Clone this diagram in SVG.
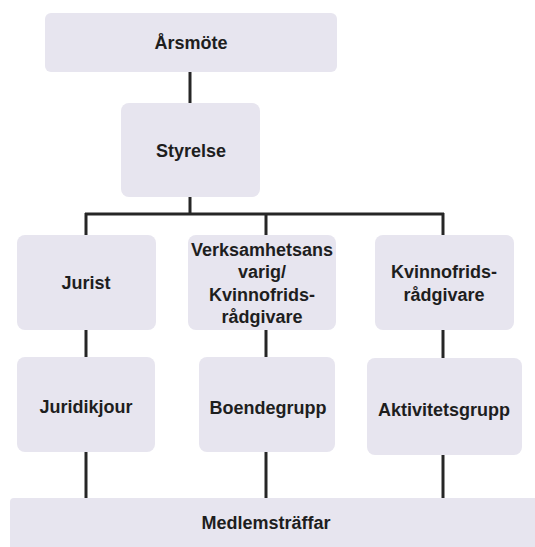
<svg xmlns="http://www.w3.org/2000/svg" width="535" height="547" viewBox="0 0 535 547">
<style>
.box{fill:#e7e5ef;}
.t{font-family:"Liberation Sans",Arial,sans-serif;font-weight:bold;font-size:18px;fill:#1e1e1e;text-anchor:middle;}
.c{stroke:#262626;stroke-width:3;fill:none;}
</style>
<rect width="535" height="547" fill="#ffffff"/>
<g id="connectors">
<line class="c" x1="190" y1="72" x2="190" y2="103"/>
<line class="c" x1="190" y1="197" x2="190" y2="214"/>
<line class="c" x1="85" y1="214" x2="444" y2="214"/>
<line class="c" x1="86" y1="213" x2="86" y2="235"/>
<line class="c" x1="266" y1="213" x2="266" y2="235"/>
<line class="c" x1="443" y1="213" x2="443" y2="235"/>
<line class="c" x1="86" y1="330" x2="86" y2="357"/>
<line class="c" x1="266" y1="330" x2="266" y2="357"/>
<line class="c" x1="443" y1="330" x2="443" y2="358"/>
<line class="c" x1="86" y1="452" x2="86" y2="498"/>
<line class="c" x1="266" y1="452" x2="266" y2="498"/>
<line class="c" x1="443" y1="455" x2="443" y2="498"/>
</g>
<g id="arsmote"><rect class="box" x="45" y="13" width="292" height="59" rx="6"/><text class="t" x="191" y="49">Årsmöte</text></g>
<g id="styrelse"><rect class="box" x="121" y="103" width="139" height="94" rx="8"/><text class="t" x="191" y="157">Styrelse</text></g>
<g id="jurist"><rect class="box" x="17" y="235" width="139" height="95" rx="8"/><text class="t" x="86" y="289">Jurist</text></g>
<g id="verksamhet"><rect class="box" x="188" y="235" width="148" height="95" rx="8"/>
<text class="t" x="262" y="256">Verksamhetsans</text>
<text class="t" x="262" y="278">varig/</text>
<text class="t" x="262" y="301">Kvinnofrids-</text>
<text class="t" x="262" y="323">rådgivare</text></g>
<g id="kvinnofrid"><rect class="box" x="375" y="235" width="139" height="95" rx="8"/>
<text class="t" x="444" y="278">Kvinnofrids-</text>
<text class="t" x="444" y="301">rådgivare</text></g>
<g id="juridikjour"><rect class="box" x="17" y="357" width="138" height="95" rx="8"/><text class="t" x="86" y="413">Juridikjour</text></g>
<g id="boendegrupp"><rect class="box" x="199" y="357" width="136" height="95" rx="8"/><text class="t" x="268" y="414">Boendegrupp</text></g>
<g id="aktivitetsgrupp"><rect class="box" x="367" y="358" width="155" height="97" rx="8"/><text class="t" x="444" y="416">Aktivitetsgrupp</text></g>
<g id="medlemstraffar"><rect class="box" x="10" y="498" width="530" height="55" rx="4"/><text class="t" x="266" y="529">Medlemsträffar</text></g>
</svg>
